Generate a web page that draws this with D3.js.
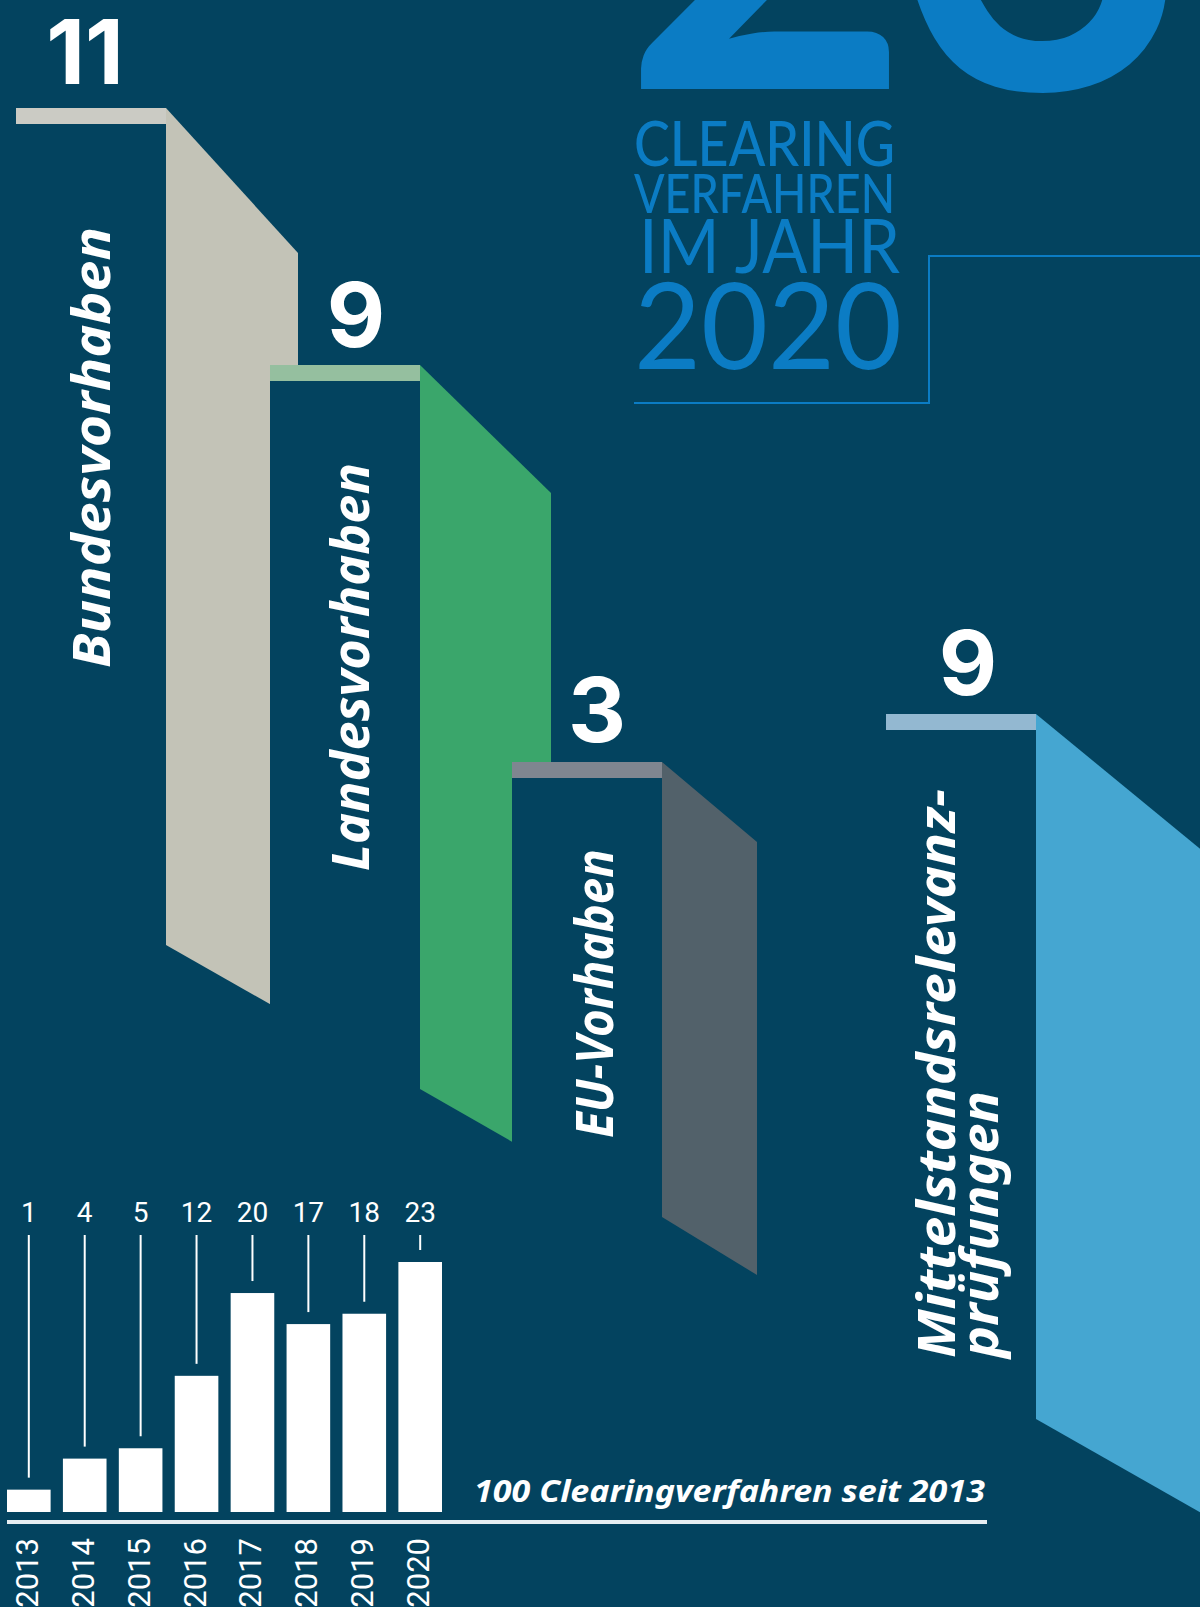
<!DOCTYPE html>
<html><head><meta charset="utf-8">
<script src="https://cdn.jsdelivr.net/npm/d3@7"></script>
<style>html,body{margin:0;padding:0;background:#03435f;} svg{display:block;}</style>
</head><body>
<svg id="c" width="1200" height="1607"></svg>
<script>
// ---------- data ----------
const categoryLines = [["Bundesvorhaben"], ["Landesvorhaben"], ["EU-Vorhaben"], ["Mittelstandsrelevanz-", "prüfungen"]];
const counts = [11, 9, 3, 9];
const years = ["2013", "2014", "2015", "2016", "2017", "2018", "2019", "2020"];
const totals = [1, 4, 5, 12, 20, 17, 18, 23];
const titleLines = ["CLEARING", "VERFAHREN", "IM JAHR", "2020"];
const footnote = "100 Clearingverfahren seit 2013";

// ---------- styles / layout ----------
const BG = "#03435f";
const TITLE_BLUE = "#0b7cc4";
const stepColors = [
  {side: "#c3c3b7", top: "#cbcbc4"},
  {side: "#3aa66b", top: "#95bf9f"},
  {side: "#52616a", top: "#7f8690"},
  {side: "#45a6d1", top: "#93b8d1"}
];
const stepLayout = [
  {x0: 16,  x1: 166,  top: 108, sideX: 298,  sideTop: 253, botL: 945,  botR: 1020, numX: 85,  numY: 84,  labX: [110], labY: 668,  labLen: [441]},
  {x0: 270, x1: 420,  top: 365, sideX: 551,  sideTop: 493, botL: 1089, botR: 1164, numX: 356, numY: 347, labX: [369], labY: 871,  labLen: [408]},
  {x0: 512, x1: 662,  top: 762, sideX: 757,  sideTop: 842, botL: 1217, botR: 1275, numX: 597, numY: 742, labX: [613], labY: 1138, labLen: [289]},
  {x0: 886, x1: 1036, top: 714, sideX: 1210, sideTop: 857, botL: 1419, botR: 1518, numX: 968, numY: 695, labX: [955, 998], labY: 1358, labLen: [569, 267]}
];
const BAR_H = 16;
const LABEL_FONT = "'Noto Sans', 'Open Sans', sans-serif";
const NUM_FONT = "Inter, 'Noto Sans', sans-serif";
const TITLE_FONT = "Lato, 'Noto Sans', sans-serif";
const CHART_FONT = "Roboto, 'Noto Sans', sans-serif";

const svg = d3.select("#c");
svg.append("rect").attr("width", 1200).attr("height", 1607).attr("fill", BG);

// ---------- big number & title ----------
const bigNumber = String(totals[totals.length - 1]);
const bigX = [622, 900];
svg.append("g").selectAll("text").data(bigNumber.split("")).join("text")
  .attr("x", (d, i) => bigX[i]).attr("y", 89)
  .attr("font-family", TITLE_FONT).attr("font-weight", 700)
  .attr("font-size", 500).attr("fill", TITLE_BLUE)
  .text(d => d);

const titleLayout = [
  {x: 634, y: 166, size: 62, w: 261, weight: 500},
  {x: 634, y: 213, size: 54, w: 261, weight: 500},
  {x: 639, y: 273, size: 76, w: 261, weight: 400},
  {x: 634, y: 369, size: 121, w: 268, weight: 400}
];
svg.append("g").selectAll("text").data(titleLines).join("text")
  .attr("x", (d, i) => titleLayout[i].x).attr("y", (d, i) => titleLayout[i].y)
  .attr("font-size", (d, i) => titleLayout[i].size)
  .attr("font-weight", (d, i) => titleLayout[i].weight)
  .attr("textLength", (d, i) => titleLayout[i].w)
  .attr("lengthAdjust", "spacingAndGlyphs")
  .attr("font-family", TITLE_FONT).attr("fill", TITLE_BLUE)
  .text(d => d);

svg.append("path")
  .attr("d", d3.line()([[634, 403], [929, 403], [929, 256], [1200, 256]]))
  .attr("fill", "none").attr("stroke", TITLE_BLUE).attr("stroke-width", 2);

// ---------- steps ----------
const steps = svg.append("g");
counts.forEach((c, i) => {
  const L = stepLayout[i], col = stepColors[i];
  const g = steps.append("g");
  // front face (occludes the previous step's side)
  g.append("rect").attr("x", L.x0).attr("y", L.top)
    .attr("width", L.x1 - L.x0).attr("height", L.botL - L.top).attr("fill", BG);
  // side face
  g.append("path")
    .attr("d", d3.line()([[L.x1, L.top], [L.sideX, L.sideTop], [L.sideX, L.botR], [L.x1, L.botL]]) + "Z")
    .attr("fill", col.side);
  // top face
  g.append("rect").attr("x", L.x0).attr("y", L.top)
    .attr("width", L.x1 - L.x0).attr("height", BAR_H).attr("fill", col.top);
  // number
  g.append("text").attr("x", L.numX).attr("y", L.numY)
    .attr("text-anchor", "middle").attr("font-family", NUM_FONT)
    .attr("font-weight", 700).attr("font-size", 90).attr("fill", "#fff")
    .text(c);
  // label
  categoryLines[i].forEach((line, j) => {
    g.append("text")
      .attr("transform", `translate(${L.labX[j]},${L.labY}) rotate(-90)`)
      .attr("font-family", LABEL_FONT).attr("font-weight", 700).attr("font-style", "italic")
      .attr("font-size", 52).attr("fill", "#fff")
      .attr("textLength", L.labLen[j]).attr("lengthAdjust", "spacingAndGlyphs")
      .text(line);
  });
});

// ---------- bar chart ----------
const base = 1512;
const x = d3.scaleBand().domain(years).range([7, 442]).paddingInner(0.22);
const y = d3.scaleLinear().domain([0, 23]).range([1500, 1262]);
const chart = svg.append("g");
const bw = x.bandwidth();

chart.selectAll("rect.bar").data(years).join("rect").attr("class", "bar")
  .attr("x", d => x(d)).attr("width", bw)
  .attr("y", (d, i) => y(totals[i])).attr("height", (d, i) => base - y(totals[i]))
  .attr("fill", "#fff");

chart.selectAll("line.lead").data(years).join("line").attr("class", "lead")
  .attr("x1", d => x(d) + bw / 2).attr("x2", d => x(d) + bw / 2)
  .attr("y1", 1235).attr("y2", (d, i) => y(totals[i]) - 12)
  .attr("stroke", "#fff").attr("stroke-width", 2);

chart.selectAll("text.val").data(years).join("text").attr("class", "val")
  .attr("x", d => x(d) + bw / 2).attr("y", 1222)
  .attr("text-anchor", "middle").attr("font-family", CHART_FONT).attr("font-weight", 400)
  .attr("font-size", 28).attr("fill", "#fff")
  .text((d, i) => totals[i]);

chart.selectAll("text.yr").data(years).join("text").attr("class", "yr")
  .attr("transform", d => `translate(${x(d) + bw / 2 + 9},1538) rotate(-90)`)
  .attr("text-anchor", "end").attr("font-family", CHART_FONT).attr("font-weight", 400)
  .attr("font-size", 31).attr("fill", "#fff")
  .text(d => d);

chart.append("line").attr("x1", 7).attr("x2", 987).attr("y1", 1522).attr("y2", 1522)
  .attr("stroke", "#e6eef2").attr("stroke-width", 4);

chart.append("text").attr("x", 474).attr("y", 1502)
  .attr("font-family", LABEL_FONT).attr("font-weight", 700).attr("font-style", "italic")
  .attr("font-size", 31).attr("fill", "#fff")
  .attr("textLength", 511).attr("lengthAdjust", "spacingAndGlyphs")
  .text(footnote);
</script>
</body></html>
